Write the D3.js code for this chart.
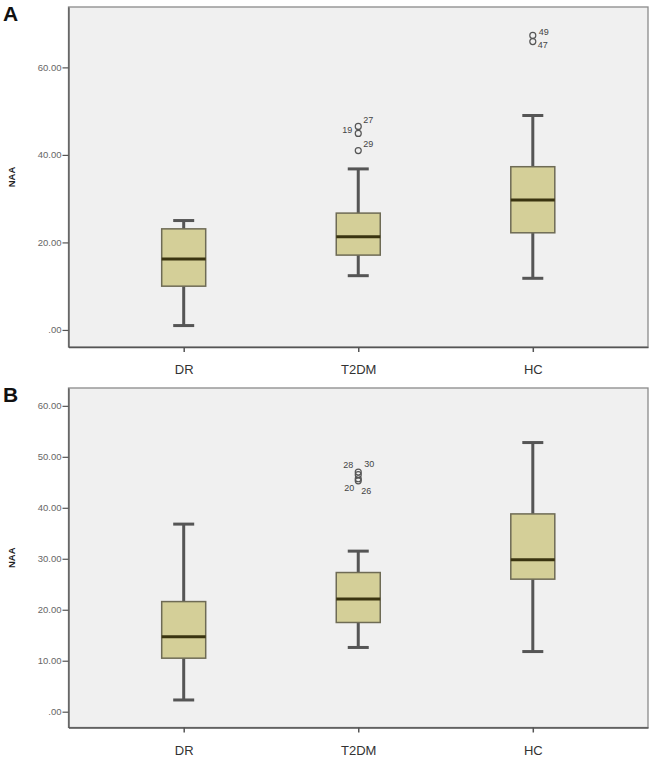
<!DOCTYPE html>
<html>
<head>
<meta charset="utf-8">
<script src="https://cdn.jsdelivr.net/npm/d3@7/dist/d3.min.js"></script>
<style>
  body { margin: 0; background: #ffffff; }
  svg { display: block; font-family: "Liberation Sans", Arial, sans-serif; }
</style>
</head>
<body>
<svg id="chart" width="661" height="765"></svg>
<script>
// ---------- DATA ----------
const categories = ["DR", "T2DM", "HC"];

// Panel A
const aLow  = [1.0, 12.4, 11.8];
const aQ1   = [10.0, 17.1, 22.2];
const aMed  = [16.2, 21.3, 29.7];
const aQ3   = [23.1, 26.7, 37.3];
const aHigh = [25.0, 36.8, 49.0];
const aOutliers = [
  { cat: "T2DM", v: 46.5, id: "27" },
  { cat: "T2DM", v: 44.9, id: "19" },
  { cat: "T2DM", v: 41.0, id: "29" },
  { cat: "HC",   v: 67.3, id: "49" },
  { cat: "HC",   v: 65.9, id: "47" }
];
const aTicks = [0, 20, 40, 60];
const aTickLabels = [".00", "20.00", "40.00", "60.00"];

// Panel B
const bLow  = [2.3, 12.6, 11.8];
const bQ1   = [10.5, 17.5, 26.0];
const bMed  = [14.7, 22.1, 29.8];
const bQ3   = [21.6, 27.3, 38.8];
const bHigh = [36.8, 31.5, 52.8];
const bOutliers = [
  { cat: "T2DM", v: 47.0, id: "28" },
  { cat: "T2DM", v: 46.5, id: "30" },
  { cat: "T2DM", v: 45.7, id: "20" },
  { cat: "T2DM", v: 45.3, id: "26" }
];
const bTicks = [0, 10, 20, 30, 40, 50, 60];
const bTickLabels = [".00", "10.00", "20.00", "30.00", "40.00", "50.00", "60.00"];

const yLabel = "NAA";

// ---------- DRAWING ----------
const svg = d3.select("#chart");

// label placement for outlier case numbers (dx, dy, anchor)
const labelPlace = {
  "27": [5, -3.5, "start"],
  "19": [-6, 0, "end"],
  "29": [5, -3.5, "start"],
  "49": [6, 0, "start"],
  "47": [5, 6, "start"],
  "28": [-5, -4, "end"],
  "30": [6, -8, "start"],
  "20": [-4, 12, "end"],
  "26": [3, 13, "start"]
};

function panel(opts) {
  const { letter, top, bottom, domain, low, q1, med, q3, high, outliers, ticks, tickLabels } = opts;
  const left = 68.5, right = 648;
  const g = svg.append("g");

  // panel letter
  g.append("text")
    .attr("x", 3).attr("y", top + 14)
    .attr("font-size", 21).attr("font-weight", "bold")
    .attr("fill", "#111")
    .text(letter);

  const x = d3.scalePoint().domain(categories).range([left, right]).padding(0.66);
  const y = d3.scaleLinear().domain(domain).range([bottom, top]);

  // frame
  g.append("rect")
    .attr("x", left).attr("y", top)
    .attr("width", right - left).attr("height", bottom - top)
    .attr("fill", "#f0f0f0").attr("stroke", "#8a8a8a").attr("stroke-width", 1.3);

  // y axis
  const yAxis = g.append("g")
    .attr("transform", `translate(${left},0)`)
    .call(d3.axisLeft(y).tickValues(ticks).tickFormat((d, i) => tickLabels[i])
      .tickSize(6).tickSizeOuter(0).tickPadding(1));
  yAxis.select(".domain").attr("stroke", "#555").attr("stroke-width", 1.3);
  yAxis.selectAll(".tick line").attr("stroke", "#555").attr("stroke-width", 1.2);
  yAxis.selectAll(".tick text").attr("font-size", 9.5).attr("fill", "#666")
    .attr("font-family", "'Liberation Sans', Arial, sans-serif");

  // x axis
  const xAxis = g.append("g")
    .attr("transform", `translate(0,${bottom})`)
    .call(d3.axisBottom(x).tickSize(5).tickSizeOuter(0).tickPadding(13));
  xAxis.select(".domain").attr("stroke", "#555").attr("stroke-width", 1.3);
  xAxis.selectAll(".tick line").attr("stroke", "#555").attr("stroke-width", 1.5);
  xAxis.selectAll(".tick text").attr("font-size", 13).attr("fill", "#333")
    .attr("font-family", "'Liberation Sans', Arial, sans-serif");

  // y label
  g.append("text")
    .attr("transform", `translate(15,${(top + bottom) / 2}) rotate(-90)`)
    .attr("text-anchor", "middle")
    .attr("font-size", 9.5).attr("font-weight", "bold").attr("fill", "#222")
    .text(yLabel);

  const boxW = 44, capW = 21;
  const data = categories.map((c, i) => ({ c, lo: low[i], q1: q1[i], med: med[i], q3: q3[i], hi: high[i] }));
  const bx = g.selectAll(".box").data(data).enter().append("g").attr("class", "box");

  // whiskers
  bx.append("line")
    .attr("x1", d => x(d.c)).attr("x2", d => x(d.c))
    .attr("y1", d => y(d.hi)).attr("y2", d => y(d.q3))
    .attr("stroke", "#555").attr("stroke-width", 3);
  bx.append("line")
    .attr("x1", d => x(d.c)).attr("x2", d => x(d.c))
    .attr("y1", d => y(d.q1)).attr("y2", d => y(d.lo))
    .attr("stroke", "#555").attr("stroke-width", 3);
  // caps
  bx.append("line")
    .attr("x1", d => x(d.c) - capW / 2).attr("x2", d => x(d.c) + capW / 2)
    .attr("y1", d => y(d.hi)).attr("y2", d => y(d.hi))
    .attr("stroke", "#555").attr("stroke-width", 3);
  bx.append("line")
    .attr("x1", d => x(d.c) - capW / 2).attr("x2", d => x(d.c) + capW / 2)
    .attr("y1", d => y(d.lo)).attr("y2", d => y(d.lo))
    .attr("stroke", "#555").attr("stroke-width", 3);
  // box
  bx.append("rect")
    .attr("x", d => x(d.c) - boxW / 2).attr("width", boxW)
    .attr("y", d => y(d.q3)).attr("height", d => y(d.q1) - y(d.q3))
    .attr("fill", "#d4cf98").attr("stroke", "#6e6b55").attr("stroke-width", 1.5);
  // median
  bx.append("line")
    .attr("x1", d => x(d.c) - boxW / 2).attr("x2", d => x(d.c) + boxW / 2)
    .attr("y1", d => y(d.med)).attr("y2", d => y(d.med))
    .attr("stroke", "#3a3410").attr("stroke-width", 3);

  // outliers
  const og = g.selectAll(".out").data(outliers).enter().append("g").attr("class", "out");
  og.append("circle")
    .attr("cx", d => x(d.cat)).attr("cy", d => y(d.v)).attr("r", 3)
    .attr("fill", "none").attr("stroke", "#555").attr("stroke-width", 1.2);
  og.append("text")
    .attr("x", d => x(d.cat) + labelPlace[d.id][0])
    .attr("y", d => y(d.v) + labelPlace[d.id][1])
    .attr("text-anchor", d => labelPlace[d.id][2])
    .attr("font-size", 9).attr("fill", "#444")
    .text(d => d.id);
}

panel({ letter: "A", top: 7, bottom: 347, domain: [-3.9, 73.8],
  low: aLow, q1: aQ1, med: aMed, q3: aQ3, high: aHigh, outliers: aOutliers,
  ticks: aTicks, tickLabels: aTickLabels });

panel({ letter: "B", top: 388, bottom: 727.5, domain: [-3.1, 63.5],
  low: bLow, q1: bQ1, med: bMed, q3: bQ3, high: bHigh, outliers: bOutliers,
  ticks: bTicks, tickLabels: bTickLabels });
</script>
</body>
</html>
